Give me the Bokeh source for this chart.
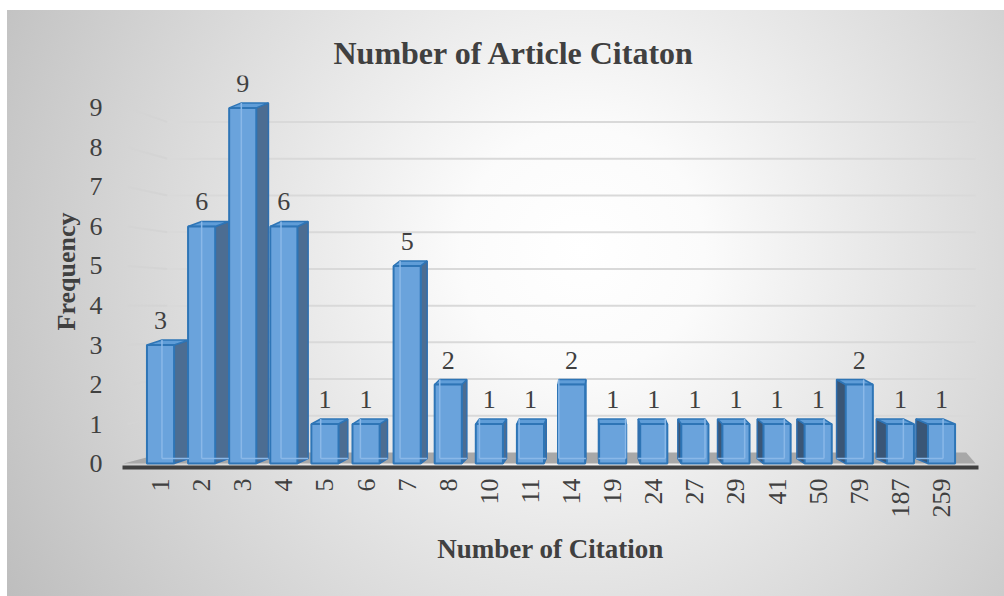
import math
from bokeh.plotting import figure
from bokeh.models import ColumnDataSource, FixedTicker, Title
from bokeh.embed import file_html
from bokeh.resources import INLINE
from bokeh.core.properties import value

# ---- data ----
categories = ["1", "2", "3", "4", "5", "6", "7", "8", "10", "11", "14",
              "19", "24", "27", "29", "41", "50", "79", "187", "259"]
frequency = [3, 6, 9, 6, 1, 1, 5, 2, 1, 1, 2, 1, 1, 1, 1, 1, 1, 2, 1, 1]
y_ticks = [0, 1, 2, 3, 4, 5, 6, 7, 8, 9]

n = len(categories)
xs_idx = list(range(n))

# ---- style / geometry (perspective look) ----
W = 0.66            # front width in x units
PX_X = 41.1         # px per x unit
PX_Y = 39.5         # px per y unit
TOP_RISE = 5 / PX_Y  # upward shift of back edges

def depth(i):
    # horizontal shift of back edges (perspective) in x units
    return (15 - 27 * i / (n - 1)) / PX_X

FONT = "Liberation Serif"
TXT = "#404040"

p = figure(width=1004, height=596, output_backend="svg", toolbar_location=None,
           x_range=(-0.925, 19.9), y_range=(-0.1, 9.82),
           min_border_left=122, min_border_right=26, min_border_top=75,
           min_border_bottom=129)
p.border_fill_alpha = 0
p.background_fill_alpha = 0
p.outline_line_color = None
p.styles = {
    "background": "linear-gradient(to right, #ffffff 7px, rgba(255,255,255,0) 7px), "
                  "linear-gradient(to bottom, #ffffff 10px, rgba(255,255,255,0) 10px), "
                  "radial-gradient(circle farthest-corner at 58% 42%, #ffffff 0%, #fbfbfb 18%, #bdbdbd 100%)"
}

# title
p.title = Title(text="Number of Article Citaton", align="left", offset=211,
                text_font=FONT, text_font_size="32px", text_font_style="bold",
                text_color=TXT, standoff=10)

# ---- gridlines (back wall, perspective) ----
grid_v = y_ticks[1:]
back_y = [0.28 + 0.929 * v for v in grid_v]
p.segment(x0=[-0.8] * len(grid_v), y0=grid_v, x1=[0.17] * len(grid_v), y1=back_y,
          line_color="#d4d4d4", line_width=2)
p.segment(x0=[0.17] * len(grid_v), y0=back_y, x1=[19.83] * len(grid_v), y1=back_y,
          line_color="#d9d9d9", line_width=2)
p.xgrid.grid_line_color = None
p.ygrid.grid_line_color = None

# ---- floor ----
p.patch(x=[-0.9, 19.83, 19.6, 0.12], y=[0, 0, 0.28, 0.28],
        fill_color="#a8a8a8", line_color=None)

# ---- bars with 3D faces ----
side_xs, side_ys, side_col = [], [], []
top_xs, top_ys = [], []
edge_x0, edge_y0, edge_x1, edge_y1 = [], [], [], []
for i, v in zip(xs_idx, frequency):
    x0, x1 = i - W / 2, i + W / 2
    d = depth(i)
    r = TOP_RISE
    if d >= 0:
        side_xs.append([x1, x1 + d, x1 + d, x1])
        side_col.append("#4c6d92")
        bx = x0 + d
    else:
        side_xs.append([x0, x0 + d, x0 + d, x0])
        side_col.append("#3a5676")
        bx = x1 + d
    side_ys.append([0, r, v + r, v])
    top_xs.append([x0, x1, x1 + d, x0 + d])
    top_ys.append([v, v, v + r, v + r])
    # back edges seen through the translucent front
    edge_x0 += [bx, x0 + d]
    edge_y0 += [r, r]
    edge_x1 += [bx, x1 + d]
    edge_y1 += [v + r, r]

p.patches(xs=side_xs, ys=side_ys, fill_color=side_col, line_color="#2e6fb0",
          line_width=1.5)
p.patches(xs=top_xs, ys=top_ys, fill_color="#5f9dd8", line_color="#2e75b6",
          line_width=1.5)

src = ColumnDataSource(dict(x=xs_idx, top=frequency,
                            lab=[str(v) for v in frequency]))
p.vbar(x="x", top="top", bottom=0, width=W, source=src,
       fill_color="#6aa3dc", fill_alpha=1.0, line_color="#2e75b6", line_width=2)
p.segment(x0=edge_x0, y0=edge_y0, x1=edge_x1, y1=edge_y1,
          line_color="#8ab8e8", line_width=1.5)

# value labels
p.text(x="x", y="top", text="lab", source=src, text_align="center",
       text_baseline="bottom", y_offset=-16, text_font=value(FONT),
       text_font_size="26px", text_color=TXT)

# ---- axes ----
p.xaxis.ticker = FixedTicker(ticks=xs_idx)
p.xaxis.major_label_overrides = {i: c for i, c in zip(xs_idx, categories)}
p.xaxis.major_label_orientation = math.pi / 2
p.xaxis.axis_line_color = "#404040"
p.xaxis.axis_line_width = 4
p.xaxis.major_tick_line_color = None
p.xaxis.minor_tick_line_color = None
p.xaxis.major_label_standoff = 5
p.xaxis.major_label_text_font = FONT
p.xaxis.major_label_text_font_size = "26px"
p.xaxis.major_label_text_color = TXT
p.xaxis.axis_label = "Number of Citation"
p.xaxis.axis_label_text_font = FONT
p.xaxis.axis_label_text_font_size = "27px"
p.xaxis.axis_label_text_font_style = "bold"
p.xaxis.axis_label_text_color = TXT
p.xaxis.axis_label_standoff = 13

p.yaxis.ticker = FixedTicker(ticks=y_ticks)
p.yaxis.axis_line_color = None
p.yaxis.major_tick_line_color = None
p.yaxis.minor_tick_line_color = None
p.yaxis.major_label_standoff = 14
p.yaxis.major_label_text_font = FONT
p.yaxis.major_label_text_font_size = "26px"
p.yaxis.major_label_text_color = TXT
p.yaxis.axis_label = "Frequency"
p.yaxis.axis_label_text_font = FONT
p.yaxis.axis_label_text_font_size = "26px"
p.yaxis.axis_label_text_font_style = "bold"
p.yaxis.axis_label_text_color = TXT
p.yaxis.axis_label_standoff = 6

open("out.html", "w").write(file_html(p, INLINE))
